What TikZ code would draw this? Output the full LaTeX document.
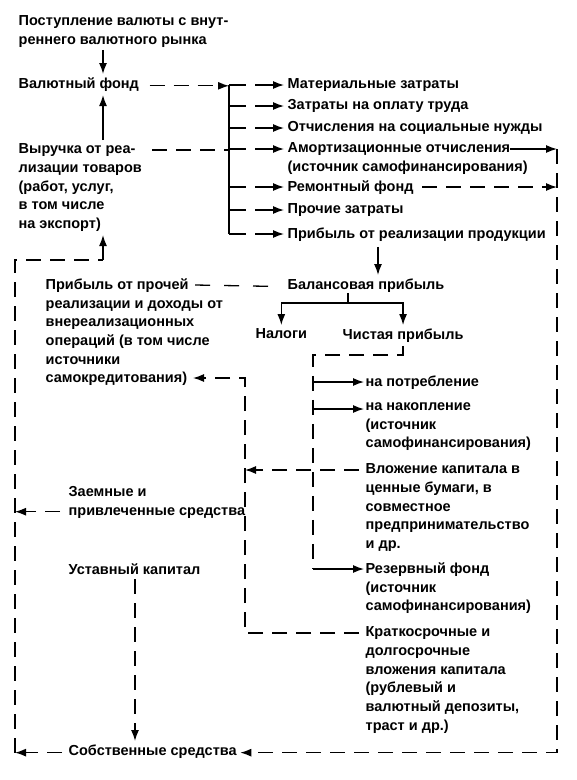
\documentclass[tikz,border=0pt]{standalone}
\usepackage{fontspec}
\setmainfont{Liberation Sans}
\usetikzlibrary{arrows.meta}

\tikzset{
  lbl/.style={anchor=north west, inner sep=0pt, align=left, font=\bfseries\fontsize{14.5}{18.7}\selectfont},
  arr/.style={-{Latex[length=11pt,width=8pt]}},
  dsh/.style={dash pattern=on 15pt off 9pt},
  branch/.style={dash pattern=on 17pt off 9pt on 40pt off 0pt, arr, shorten >=3pt},
}

\begin{document}
\begin{tikzpicture}[x=1pt, y=-1pt, line width=1.3pt]
\useasboundingbox (0,0) rectangle (577,780);

% Sources of currency
\node[lbl] (post) at (18,15) {Поступление валюты с внут-\\реннего валютного рынка};
\node[lbl] (fond) at (18,77) {Валютный фонд};
\node[lbl] (vyr) at (18,143) {Выручка от реа-\\лизации товаров\\(работ, услуг,\\в том числе\\на экспорт)};

% Cost items
\node[lbl] (m1) at (287,78) {Материальные затраты};
\node[lbl] (m2) at (287,99) {Затраты на оплату труда};
\node[lbl] (m3) at (287,121) {Отчисления на социальные нужды};
\node[lbl] (m4) at (287,142) {Амортизационные отчисления\\(источник самофинансирования)};
\node[lbl] (m5) at (287,180) {Ремонтный фонд};
\node[lbl] (m6) at (287,203) {Прочие затраты};
\node[lbl] (m7) at (287,227) {Прибыль от реализации продукции};

% Profit
\node[lbl] (bal) at (287,278) {Балансовая прибыль};
\node[lbl] (proch) at (45,278) {Прибыль от прочей\\реализации и доходы от\\внереализационных\\операций (в том числе\\источники\\самокредитования)};
\node[lbl] (nal) at (255,328) {Налоги};
\node[lbl] (chist) at (342,328) {Чистая прибыль};

% Use of net profit
\node[lbl] (potr) at (365,375) {на потребление};
\node[lbl] (nak) at (365,402) {на накопление\\(источник\\самофинансирования)};
\node[lbl] (vlozh) at (365,463) {Вложение капитала в\\ценные бумаги, в\\совместное\\предпринимательство\\и др.};
\node[lbl] (rez) at (365,562) {Резервный фонд\\(источник\\самофинансирования)};
\node[lbl] (kratk) at (365,626) {Краткосрочные и\\долгосрочные\\вложения капитала\\(рублевый и\\валютный депозиты,\\траст и др.)};

% Own and borrowed funds
\node[lbl] (zaem) at (68,486) {Заемные и\\привлеченные средства};
\node[lbl] (ustav) at (68,563) {Уставный капитал};
\node[lbl] (sobst) at (68,744) {Собственные средства};

% Line positions
\coordinate (colA) at (103,0);
\coordinate (brk) at (229,0);
\coordinate (rgt) at (557,0);
\coordinate (lft) at (15,0);
\coordinate (midL) at (245,0);
\coordinate (midR) at (313,0);
\coordinate (colB) at (378,0);
\coordinate (colU) at (135,0);
\coordinate (fork) at (348,303);
\coordinate (cpTurn) at (313,355);
\coordinate (samEnd) at (193,378);
\coordinate (loopTop) at (103,260);
\coordinate (prochEnd) at (195,285);
\coordinate (amEnd) at (510,149);
% first text lines
\foreach \n in {vyr,m1,m2,m3,m4,m5,m6,m7,potr,nak,vlozh,rez,kratk}
  \path ([yshift=-7pt]\n.north west) coordinate (\n-l) ([yshift=-7pt]\n.north east) coordinate (\n-r);
\coordinate (zaem-l) at ([yshift=-25.7pt]zaem.north west);

% Top column
\draw[arr, shorten <=2pt, shorten >=3pt] (colA |- post.south) -- (colA |- fond.north);
\draw[arr, shorten <=3pt, shorten >=3pt] (colA |- vyr.north) -- (colA |- fond.south);
\draw[dsh, arr, shorten <=10pt] (fond.mid east) -- (brk |- fond.mid east);
\draw[dsh, shorten <=10pt] (vyr-r) -- (brk |- vyr-r);

% Bracket to cost items
\draw (brk |- m1-l) -- (brk |- m7-l);
\foreach \n in {m1,m2,m3,m4,m5,m6,m7}
  \draw[branch] (brk |- \n-l) -- (\n-l);

% Right side
\draw[arr] (amEnd) -- (rgt |- amEnd);
\draw[dsh, arr, shorten <=8pt] (m5-r) -- (rgt |- m5-r);
\draw[dsh, arr, shorten >=3pt] (rgt |- amEnd) |- (sobst.mid east);

% Balance profit
\draw[arr, shorten <=5pt, shorten >=3pt] (colB |- m7.south) -- (colB |- bal.north);
\draw[dash pattern=on 15pt off 14pt, shorten <=19pt] (bal.mid west) -- (prochEnd);
\draw (fork |- bal.south) -- (fork);
\draw[arr, shorten >=3pt] (fork) -| (nal.north);
\draw[arr, shorten >=3pt] (fork) -| (chist.north);

% Net profit distribution
\draw[dsh, shorten <=3pt] (chist.south) |- (cpTurn) -- (midR |- rez-l);
\foreach \n in {potr,nak,rez}
  \draw[arr, shorten >=1pt] (midR |- \n-l) -- (\n-l);
\draw[dsh, arr, shorten <=6pt] (vlozh-l) -- (midL |- vlozh-l);
\draw[dsh, arr, shorten <=6pt] (kratk-l) -| (samEnd -| midL) -- (samEnd);

% Own funds loop
\draw[dsh, arr, shorten <=6pt] (sobst.mid west) -- (lft |- sobst.mid west);
\draw[dsh] (lft |- sobst.mid west) |- (loopTop);
\draw[arr, shorten >=3pt] (loopTop) -- (colA |- vyr.south);
\draw[dsh, arr, shorten <=8pt] (zaem-l) -- (zaem-l -| lft);
\draw[dsh, arr, shorten <=4pt, shorten >=3pt] (colU |- ustav.south) -- (colU |- sobst.north);
\end{tikzpicture}
\end{document}
